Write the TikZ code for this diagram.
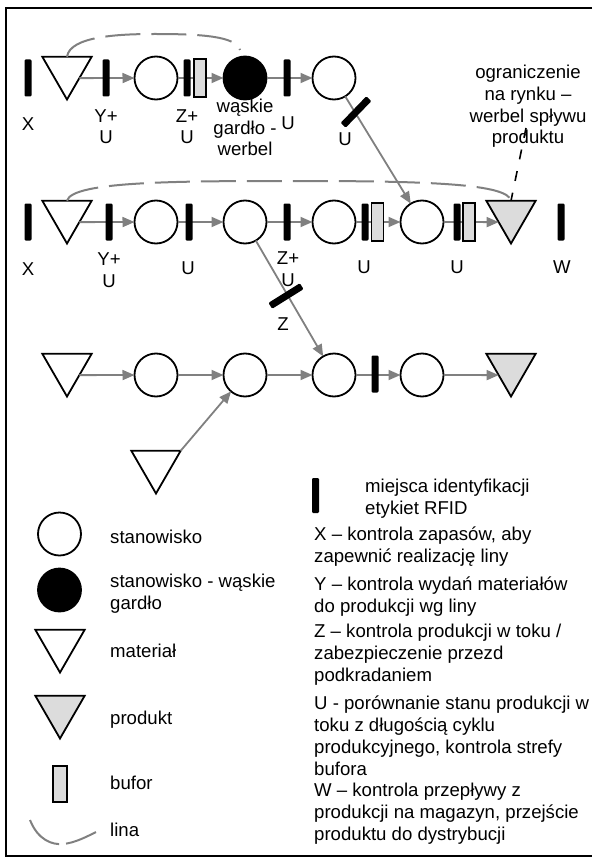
\documentclass[tikz,border=0pt]{standalone}
\usepackage{fontspec}
\setmainfont{Liberation Sans}
\usetikzlibrary{shapes.geometric,arrows.meta}
\definecolor{arrgrey}{HTML}{808080}
\definecolor{fillgrey}{HTML}{DCDCDC}
\tikzset{
 station/.style={circle,draw,line width=1.8pt,fill=white,minimum size=43pt,inner sep=0pt,outer sep=0pt},
 bneck/.style={station,fill=black},
 mat/.style={regular polygon,regular polygon sides=3,shape border rotate=180,draw,line width=1.8pt,fill=white,minimum size=57pt,inner sep=0pt,outer sep=0pt},
 prod/.style={mat,fill=fillgrey},
 rfid/.style={rectangle,fill=black,minimum width=7pt,minimum height=37pt,inner sep=0pt,outer sep=0pt,rounded corners=1.2pt},
 buf/.style={rectangle,draw,line width=1.4pt,fill=fillgrey,minimum width=12pt,minimum height=38pt,inner sep=0pt},
 arr/.style={draw=arrgrey,line width=1.8pt,-{Triangle[length=12pt,width=10pt]}},
 lina/.style={draw=arrgrey,line width=2pt,dash pattern=on 35pt off 11pt},
 callout/.style={draw=black,line width=1.6pt,dash pattern=on 10pt off 12pt},
 lbl/.style={inner sep=0pt,anchor=base,align=center},
 txt/.style={inner sep=0pt,anchor=base west,align=left},
}
\begin{document}
\begin{tikzpicture}[x=1pt,y=-1pt,font={\fontsize{18.6}{21.7}\selectfont}]
\useasboundingbox (0,0) rectangle (592,861);
\draw[line width=2.4pt] (592,8) -- (6,8) -- (6,856) -- (592,856);

% ---------- top row ----------
\node[mat] (t0) at (67,71) {};
\node[station] (t1) at (156,78) {};
\node[bneck] (t2) at (245,78) {};
\node[station] (t3) at (334,78) {};
% ---------- middle row ----------
\node[mat] (m0) at (67,215) {};
\node[station] (m1) at (156,222) {};
\node[station] (m2) at (245,222) {};
\node[station] (m3) at (334,222) {};
\node[station] (m4) at (422,222) {};
\node[prod] (mP) at (511,215) {};
% ---------- bottom row ----------
\node[mat] (b0) at (67,368) {};
\node[station] (b1) at (156,375) {};
\node[station] (b2) at (245,375) {};
\node[station] (b3) at (334,375) {};
\node[station] (b4) at (422,375) {};
\node[prod] (bP) at (511,368) {};
\node[mat] (bT) at (156,465) {};

% lines (lina)
\draw[lina] (t0.side 2) .. controls (70,36) and (120,34) .. (155,34) .. controls (200,34) and (236,36) .. (240,50);
\draw[lina] (m0.side 2) .. controls (72,181) and (180,181) .. (300,181) .. controls (430,181) and (508,184) .. (mP.side 2);

% arrows
\draw[arr] (t0.side 1) -- (t1);
\draw[arr] (t1) -- (t2);
\draw[arr] (t2) -- (t3);
\draw[arr] (t3) -- (m4);
\draw[arr] (m0.side 1) -- (m1);
\draw[arr] (m1) -- (m2);
\draw[arr] (m2) -- (m3);
\draw[arr] (m3) -- (m4);
\draw[arr] (m4) -- (mP.side 3);
\draw[arr] (m2) -- (b3);
\draw[arr] (b0.side 1) -- (b1);
\draw[arr] (b1) -- (b2);
\draw[arr] (b2) -- (b3);
\draw[arr] (b3) -- (b4);
\draw[arr] (b4) -- (bP.side 3);
\draw[arr] (bT.corner 2) -- (b2);

% RFID bars and buffers
\node[rfid] (tX) at (28,78) {};
\node[rfid] (tY) at (106,78) {};
\node[rfid] (tZ) at (187,78) {};
\node[buf] (tB) at (200,78) {};
\node[rfid] (tU) at (287,78) {};
\node[rfid,rotate=-44] (tD) at (356,112) {};
\node[rfid] (mX) at (28,222) {};
\node[rfid] (mY) at (109,222) {};
\node[rfid] (mU1) at (189,222) {};
\node[rfid] (mZ) at (287,222) {};
\node[rfid] (mU2) at (365,222) {};
\node[buf] (mB1) at (377.5,222) {};
\node[rfid] (mU3) at (457,222) {};
\node[buf] (mB2) at (469,222) {};
\node[rfid] (mW) at (561,222) {};
\node[rfid,rotate=-58] (mD) at (286,296) {};
\node[rfid] (bU) at (375,374) {};

% callout
\coordinate (co) at (526,128);
\draw[callout] (co) -- (mP.side 2);

% labels top row (base = last line)
\node[lbl] (lt1) at (28,131) {X};
\node[lbl] (lt2) at (106,144) {Y+\\U};
\node[lbl] (lt3) at (187,144) {Z+\\U};
\node[lbl] (lt4) at (245,156) {wąskie\\gardło -\\werbel};
\node[lbl] (lt5) at (288,130) {U};
\node[lbl] (lt6) at (345,146) {U};
\node[lbl] (lt7) at (528,144) {ograniczenie\\na rynku –\\werbel spływu\\produktu};
% labels middle row
\node[lbl] (lm1) at (28,275) {X};
\node[lbl] (lm2) at (109,287) {Y+\\U};
\node[lbl] (lm3) at (188,274) {U};
\node[lbl] (lm4) at (288,286) {Z+\\U};
\node[lbl] (lm5) at (283,330) {Z};
\node[lbl] (lm6) at (364,273) {U};
\node[lbl] (lm7) at (457,273) {U};
\node[lbl] (lm8) at (562,273) {W};

% legend left
\node[station] (gS) at (59.5,534) {};
\node[bneck] (gB) at (59.5,590) {};
\node[mat] (gM) at (60,644) {};
\node[prod] (gP) at (60,710) {};
\node[buf,minimum width=14pt,minimum height=36pt] (gBuf) at (60,784) {};
\draw[arrgrey,line width=2pt,dash pattern=on 40pt off 7pt] (30,820) .. controls (38,840) and (52,845) .. (63,844) .. controls (75,843) and (88,836) .. (96,832);
\node[txt] (e1) at (110,543) {stanowisko};
\node[txt] (e2) at (110,609) {stanowisko - wąskie\\gardło};
\node[txt] (e3) at (110,657) {materiał};
\node[txt] (e4) at (110,724) {produkt};
\node[txt] (e5) at (110,789) {bufor};
\node[txt] (e6) at (110,836) {lina};

% legend right
\node[rfid,minimum height=35pt] (gR) at (315.5,495.5) {};
\node[txt] (r0) at (365,514) {miejsca identyfikacji\\etykiet RFID};
\node[txt] (r1) at (314,562) {X – kontrola zapasów, aby\\zapewnić realizację liny};
\node[txt] (r2) at (314,612) {Y – kontrola wydań materiałów\\do produkcji wg liny};
\node[txt] (r3) at (314,681) {Z – kontrola produkcji w toku /\\zabezpieczenie przezd\\podkradaniem};
\node[txt] (r4) at (314,775) {U - porównanie stanu produkcji w\\toku z długością cyklu\\produkcyjnego, kontrola strefy\\bufora};
\node[txt] (r5) at (314,840) {W – kontrola przepływy z\\produkcji na magazyn, przejście\\produktu do dystrybucji};
\end{tikzpicture}
\end{document}
